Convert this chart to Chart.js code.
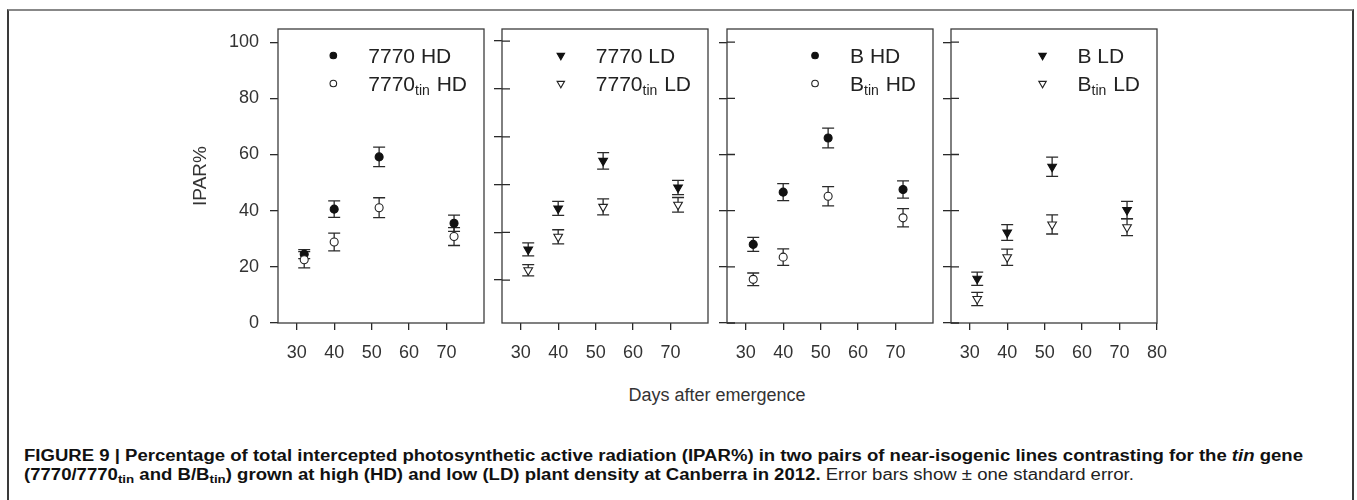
<!DOCTYPE html>
<html>
<head>
<meta charset="utf-8">
<script src="https://cdn.jsdelivr.net/npm/chart.js@4.4.0/dist/chart.umd.min.js"></script>
<style>
  body { margin: 0; background: #fff; width: 1357px; height: 500px; overflow: hidden; position: relative;
         font-family: "Liberation Sans", Arial, sans-serif; }
  canvas { position: absolute; }
  #frame { position: absolute; left: 7px; top: 9px; width: 1343px; height: 520px;
           border-top: 2px solid #888; border-left: 2px solid #3a3a3a; border-right: 2px solid #3a3a3a; }
  #xtitle { position: absolute; left: 567px; width: 300px; top: 385px; text-align: center;
            font-size: 18px; line-height: 20px; color: #333; }
  #caption { position: absolute; left: 24px; top: 446px; font-size: 16px; line-height: 19px; color: #111;
             font-family: "Liberation Sans", Arial, sans-serif;
             transform-origin: 0 0; white-space: nowrap; }
  #caption sub { font-size: 0.72em; vertical-align: -0.3em; line-height: 0; }
  #caption .reg { font-weight: normal; color: #222; }
</style>
</head>
<body>
<div id="frame"></div>
<div id="xtitle">Days after emergence</div>
<div id="caption">
  <div id="capLine1"><span id="capText1"><b>FIGURE 9 | Percentage of total intercepted photosynthetic active radiation (IPAR%) in two pairs of near-isogenic lines contrasting for the <i>tin</i> gene</b></span></div>
  <div><b>(7770/7770<sub>tin</sub> and B/B<sub>tin</sub>) grown at high (HD) and low (LD) plant density at Canberra in 2012.</b><span class="reg"> Error bars show ± one standard error.</span></div>
</div>
<script>
// days after emergence for every series
const days = [32, 40, 52, 72];
const xTicks = [30, 40, 50, 60, 70];
const xTicksLast = [30, 40, 50, 60, 70, 80];
const yTicks = [0, 20, 40, 60, 80, 100];
// second panel's ticks sit off the common grid in the original figure
const yTicksPanel2 = [15.3, 32.3, 49.3, 66.3, 83.4, 100.4];

// IPAR% means and standard errors
const hd7770 = [24.5, 40.55, 59.15, 35.5];
const hd7770Se = [1.6, 2.95, 3.45, 2.9];
const hd7770tin = [22.5, 28.85, 41.05, 30.8];
const hd7770tinSe = [2.9, 3.15, 3.55, 3.2];

const ld7770 = [26.2, 40.8, 57.75, 48.25];
const ld7770Se = [2.3, 2.5, 2.95, 2.55];
const ld7770tin = [18.8, 30.7, 41.35, 42.1];
const ld7770tinSe = [2.0, 2.5, 2.85, 2.6];

const hdB = [28.0, 46.6, 65.9, 47.55];
const hdBSe = [2.5, 3.0, 3.5, 3.05];
const hdBtin = [15.55, 23.45, 45.15, 37.45];
const hdBtinSe = [2.25, 2.95, 3.45, 3.25];

const ldB = [15.75, 32.2, 55.65, 40.25];
const ldBSe = [2.35, 2.8, 3.45, 3.05];
const ldBtin = [8.55, 23.4, 35.1, 34.1];
const ldBtinSe = [2.35, 2.9, 3.4, 3.0];

// legend labels: [base, subscript, suffix]
const labels7770HD = [['7770', '', ' HD'], ['7770', 'tin', ' HD']];
const labels7770LD = [['7770', '', ' LD'], ['7770', 'tin', ' LD']];
const labelsBHD = [['B', '', ' HD'], ['B', 'tin', ' HD']];
const labelsBLD = [['B', '', ' LD'], ['B', 'tin', ' LD']];

// layout
const BOX_TOP = 29, BOX_BOTTOM = 323, BOX_W = 206;
const Y_AXIS_W = 90, X_AXIS_H = 50, RIGHT_PAD = 24;
const panelLeft = [278, 502, 727, 951];
const INK = '#2a2a2a';
const FONT = '"Liberation Sans", Arial, sans-serif';

// error bars drawn under the markers
const errorBars = {
    id: 'errorBars',
    beforeDatasetsDraw(chart) {
        const ctx = chart.ctx, xs = chart.scales.x, ys = chart.scales.y;
        ctx.save();
        ctx.strokeStyle = INK;
        ctx.lineWidth = 1.3;
        chart.data.datasets.forEach(ds => {
            ds.data.forEach((pt, j) => {
                const x = xs.getPixelForValue(pt.x);
                const y1 = ys.getPixelForValue(pt.y + ds.errors[j]);
                const y2 = ys.getPixelForValue(pt.y - ds.errors[j]);
                ctx.beginPath();
                ctx.moveTo(x, y1); ctx.lineTo(x, y2);
                ctx.moveTo(x - 6, y1); ctx.lineTo(x + 6, y1);
                ctx.moveTo(x - 6, y2); ctx.lineTo(x + 6, y2);
                ctx.stroke();
            });
        });
        ctx.restore();
    }
};

// closed box round the plot area, plus inward half of the y ticks
const panelFrame = {
    id: 'panelFrame',
    afterDraw(chart, args, opts) {
        const ctx = chart.ctx, a = chart.chartArea;
        ctx.save();
        ctx.strokeStyle = '#3c3c3c';
        ctx.lineWidth = 1.3;
        ctx.strokeRect(a.left, a.top, a.right - a.left, a.bottom - a.top);
        if (opts.inner) {
            const ys = chart.scales.y;
            ctx.strokeStyle = INK;
            ctx.beginPath();
            ys.ticks.forEach(t => {
                const y = ys.getPixelForValue(t.value);
                ctx.moveTo(a.left, y);
                ctx.lineTo(a.left + 8, y);
            });
            ctx.stroke();
        }
        ctx.restore();
    }
};

// legend with subscripted labels, right-aligned in the panel
const subLegend = {
    id: 'subLegend',
    afterDraw(chart, args, opts) {
        const ctx = chart.ctx, a = chart.chartArea;
        const main = '21px ' + FONT, small = '14px ' + FONT;
        const widthOf = l => {
            ctx.font = main;
            let w = ctx.measureText(l[0]).width + ctx.measureText(l[2]).width;
            if (l[1]) { ctx.font = small; w += ctx.measureText(l[1]).width + 1; }
            return w;
        };
        const textLeft = a.left + 189 - Math.max(...opts.labels.map(widthOf));
        const rows = [a.top + 26.5, a.top + 54.5];
        ctx.save();
        chart.data.datasets.forEach((ds, i) => {
            const l = opts.labels[i], y = rows[i];
            ctx.fillStyle = ds.backgroundColor;
            ctx.strokeStyle = ds.borderColor;
            ctx.lineWidth = 1.1;
            Chart.helpers.drawPoint(ctx, {
                pointStyle: ds.pointStyle, rotation: ds.pointRotation,
                radius: ds.pointStyle === 'circle' ? 3.3 : 4.3, borderWidth: 1.1
            }, textLeft - 35, y);
            ctx.fillStyle = '#222';
            ctx.textBaseline = 'alphabetic';
            ctx.font = main;
            let x = textLeft;
            ctx.fillText(l[0], x, y + 7.5);
            x += ctx.measureText(l[0]).width;
            if (l[1]) {
                ctx.font = small;
                ctx.fillText(l[1], x, y + 11.5);
                x += ctx.measureText(l[1]).width + 1;
                ctx.font = main;
            }
            ctx.fillText(l[2], x, y + 7.5);
        });
        ctx.restore();
    }
};

function series(values, se, filled, marker) {
    return {
        data: days.map((d, i) => ({ x: d, y: values[i] })),
        errors: se,
        pointStyle: marker === 'tri' ? 'triangle' : 'circle',
        pointRotation: marker === 'tri' ? 180 : 0,
        pointRadius: marker === 'tri' ? 5 : 4,
        pointHoverRadius: marker === 'tri' ? 5 : 4,
        backgroundColor: filled ? '#111' : '#fff',
        borderColor: filled ? '#111' : '#222',
        borderWidth: 1.1,
        showLine: false,
        order: filled ? 1 : 0
    };
}

function makePanel(i, o) {
    const canvas = document.createElement('canvas');
    canvas.width = Y_AXIS_W + BOX_W + RIGHT_PAD;
    canvas.height = BOX_BOTTOM + X_AXIS_H;
    canvas.style.left = (panelLeft[i] - Y_AXIS_W) + 'px';
    canvas.style.top = '0px';
    document.body.appendChild(canvas);

    new Chart(canvas.getContext('2d'), {
        type: 'scatter',
        data: { datasets: o.datasets },
        options: {
            responsive: false,
            animation: false,
            layout: { padding: { top: BOX_TOP, right: RIGHT_PAD, left: 0, bottom: 0 } },
            plugins: {
                legend: { display: false },
                tooltip: { enabled: false },
                panelFrame: { inner: i > 0 },
                subLegend: { labels: o.labels }
            },
            scales: {
                x: {
                    type: 'linear', min: 25, max: 80,
                    border: { display: false },
                    grid: { drawOnChartArea: false, tickLength: 7, color: INK, lineWidth: 1.3 },
                    ticks: { font: { size: 18, family: FONT }, color: '#333', padding: 12 },
                    afterBuildTicks: s => { s.ticks = o.xt.map(v => ({ value: v })); },
                    afterFit: s => { s.height = X_AXIS_H; }
                },
                y: {
                    type: 'linear', min: 0, max: 104.7,
                    border: { display: false },
                    grid: { drawOnChartArea: false, tickLength: 8, color: INK, lineWidth: 1.3 },
                    ticks: { display: i === 0, font: { size: 18, family: FONT }, color: '#333', padding: 11 },
                    title: { display: i === 0, text: 'IPAR%', font: { size: 19, family: FONT }, color: '#333',
                             padding: { top: 1, bottom: 0 } },
                    afterBuildTicks: s => { s.ticks = o.yt.map(v => ({ value: v })); },
                    afterFit: s => { s.width = Y_AXIS_W; }
                }
            }
        },
        plugins: [errorBars, panelFrame, subLegend]
    });
}

makePanel(0, {
    datasets: [series(hd7770, hd7770Se, true, 'circ'), series(hd7770tin, hd7770tinSe, false, 'circ')],
    labels: labels7770HD, xt: xTicks, yt: yTicks
});
makePanel(1, {
    datasets: [series(ld7770, ld7770Se, true, 'tri'), series(ld7770tin, ld7770tinSe, false, 'tri')],
    labels: labels7770LD, xt: xTicks, yt: yTicksPanel2
});
makePanel(2, {
    datasets: [series(hdB, hdBSe, true, 'circ'), series(hdBtin, hdBtinSe, false, 'circ')],
    labels: labelsBHD, xt: xTicks, yt: yTicks
});
makePanel(3, {
    datasets: [series(ldB, ldBSe, true, 'tri'), series(ldBtin, ldBtinSe, false, 'tri')],
    labels: labelsBLD, xt: xTicksLast, yt: yTicks
});

// squeeze the caption so its first line spans the same width as the original (narrow type)
const cap = document.getElementById('caption');
const w = document.getElementById('capText1').getBoundingClientRect().width;
cap.style.transform = 'scaleX(' + (1279 / w) + ')';
</script>
</body>
</html>
